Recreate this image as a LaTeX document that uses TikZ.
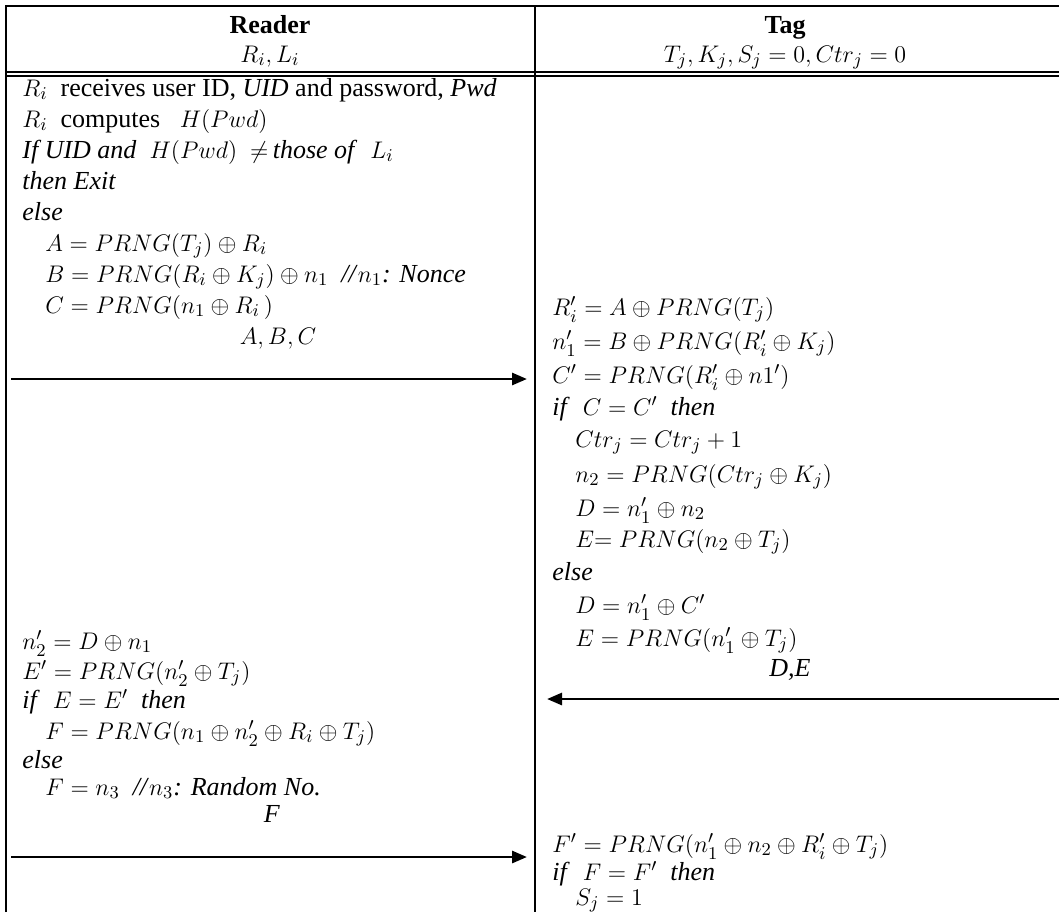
\documentclass[tikz,border=0pt,12pt]{standalone}
\usepackage{fontspec}
\setmainfont{Liberation Serif}
\usepackage{amsmath,amssymb}
\usetikzlibrary{arrows.meta}

\begin{document}
\begin{tikzpicture}[
    x=0.5pt, y=-0.5pt,
    txt/.style={anchor=base west, inner sep=0pt, font=\fontsize{13}{15}\selectfont},
    hdr/.style={anchor=base, inner sep=0pt, font=\fontsize{13}{15}\selectfont},
    frame/.style={line width=1pt},
    rule/.style={line width=0.8pt},
    send/.style={line width=1.4pt, -{Triangle[length=7.5pt, width=6pt]}}
]
\useasboundingbox (0,0) rectangle (1059,912);

\draw[frame] (6,912) -- (6,6) -- (1059,6);
\draw[rule] (6,72) -- (1059,72);
\draw[rule] (6,76) -- (1059,76);
\draw[rule] (535,6) -- (535,912);

\node[hdr] (reader) at (270,33) {\textbf{Reader}};
\node[hdr] (rdkeys) at (270,62) {$R_i, L_i$};
\node[hdr] (tag) at (785,33) {\textbf{Tag}};
\node[hdr] (tagkeys) at (785,62) {$T_j, K_j, S_j = 0, Ctr_j = 0$};

\node[txt] (rd1) at (22,96) {$R_i$\ \ receives user ID, \textit{UID} and password, \textit{Pwd}};
\node[txt] (rd2) at (22,127) {$R_i$\ \ computes\ \ \ $H(Pwd)$};
\node[txt] (rd3) at (22,158) {\textit{If UID and}\ \ $H(Pwd)$\ \ $\neq$\,\textit{those of}\ \ $L_i$};
\node[txt] (rd4) at (22,189) {\textit{then Exit}};
\node[txt] (rd5) at (22,220) {\textit{else}};
\node[txt] (rd6) at (45,251) {$A = PRNG(T_j) \oplus R_i$};
\node[txt] (rd7) at (45,282) {$B = PRNG(R_i \oplus K_j) \oplus n_1$\ \ \textit{//}$n_1$\textit{: Nonce}};
\node[txt] (rd8) at (45,313) {$C = PRNG(n_1 \oplus R_i\,)$};
\node[hdr] (abc) at (278,344) {$A, B, C$};

\node[txt] (tg1) at (552,315) {$R_i' = A \oplus PRNG(T_j)$};
\node[txt] (tg2) at (552,349) {$n_1' = B \oplus PRNG(R_i' \oplus K_j)$};
\node[txt] (tg3) at (552,383) {$C' = PRNG(R_i' \oplus n1')$};
\node[txt] (tg4) at (552,415) {\textit{if}\ \ $C = C'$\ \ \textit{then}};
\node[txt] (tg5) at (575,447) {$Ctr_j = Ctr_j + 1$};
\node[txt] (tg6) at (575,482) {$n_2 = PRNG(Ctr_j \oplus K_j)$};
\node[txt] (tg7) at (575,516) {$D = n_1' \oplus n_2$};
\node[txt] (tg8) at (575,547) {$E{=}\ PRNG(n_2 \oplus T_j)$};
\node[txt] (tg9) at (552,580) {\textit{else}};
\node[txt] (tg10) at (575,613) {$D = n_1' \oplus C'$};
\node[txt] (tg11) at (575,646) {$E = PRNG(n_1' \oplus T_j)$};
\node[hdr] (de) at (790,676) {\textit{D,E}};

\node[txt] (rd9) at (22,649) {$n_2' = D \oplus n_1$};
\node[txt] (rd10) at (22,679) {$E' = PRNG(n_2' \oplus T_j)$};
\node[txt] (rd11) at (22,708) {\textit{if}\ \ $E = E'$\ \ \textit{then}};
\node[txt] (rd12) at (45,739) {$F = PRNG(n_1 \oplus n_2' \oplus R_i \oplus T_j)$};
\node[txt] (rd13) at (22,768) {\textit{else}};
\node[txt] (rd14) at (45,795) {$F = n_3$\ \ \textit{//}$n_3$\textit{: Random No.}};
\node[hdr] (f) at (272,822) {\textit{F}};

\node[txt] (tg12) at (552,852) {$F' = PRNG(n_1' \oplus n_2 \oplus R_i' \oplus T_j)$};
\node[txt] (tg13) at (552,880) {\textit{if}\ \ $F = F'$\ \ \textit{then}};
\node[txt] (tg14) at (575,905) {$S_j = 1$};

\coordinate (m1a) at (11,379);
\coordinate (m1b) at (527,379);
\coordinate (m2a) at (1059,699);
\coordinate (m2b) at (547,699);
\coordinate (m3a) at (11,857);
\coordinate (m3b) at (527,857);
\draw[send] (m1a) -- (m1b);
\draw[send] (m2a) -- (m2b);
\draw[send] (m3a) -- (m3b);
\end{tikzpicture}
\end{document}
